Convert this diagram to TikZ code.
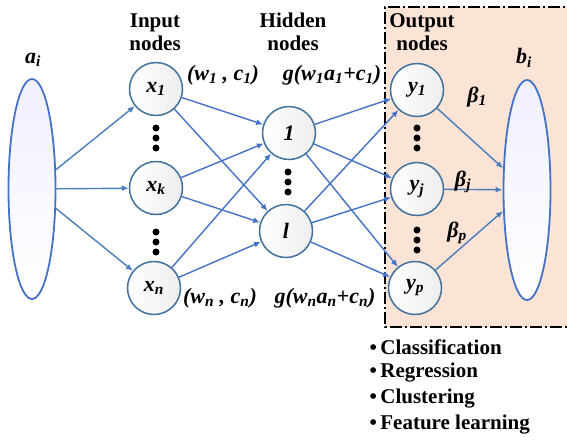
\documentclass[tikz,border=0pt]{standalone}
\usepackage{fontspec}
\setmainfont{Liberation Serif}
\usetikzlibrary{arrows.meta,positioning,shapes.geometric}
\definecolor{NodeRing}{RGB}{65,113,156}
\definecolor{LinkBlue}{RGB}{68,114,196}
\definecolor{FeedBlue}{RGB}{74,126,187}
\definecolor{OutPeach}{RGB}{251,228,214}

\begin{document}
\begin{tikzpicture}[x=1pt,y=-1pt,>={Latex[length=7pt,width=6pt]},
    neuron/.style={circle,draw=NodeRing,line width=1.5pt,minimum size=53pt,inner sep=0pt,
      left color=white,right color=black!7,font=\fontsize{22}{24}\selectfont\bfseries\itshape},
    blob/.style={ellipse,draw=LinkBlue,line width=1.8pt,minimum width=47pt,minimum height=220pt,
      inner sep=0pt,top color=blue!6,bottom color=white},
    lbl/.style={font=\fontsize{22}{24}\selectfont\bfseries\itshape},
    head/.style={font=\fontsize{21}{23}\selectfont\bfseries,align=center},
    link/.style={->,LinkBlue,line width=1.4pt},
    feed/.style={->,FeedBlue,line width=1.4pt}]
  \useasboundingbox (0,0) rectangle (567,440);

  % output region
  \fill[OutPeach] (385,7) rectangle (580,327);
  \draw[line width=1.6pt,dash pattern=on 12pt off 3pt on 2pt off 3pt]
    (580,7) -- (385,7) -- (385,327) -- (580,327);

  \node[blob] (ai) at (32,189) {};
  \node[blob] (bi) at (527,190) {};
  \node[lbl] (ailab) at (33,60) {a\textsubscript{i}};
  \node[lbl] (bilab) at (524,58) {b\textsubscript{i}};

  \node[head] (inhead) at (155,32) {Input\\nodes};
  \node[head] (hidhead) at (293,32) {Hidden\\nodes};
  \node[head] (outhead) at (422,32) {Output\\nodes};

  \node[neuron] (x1) at (156,89) {x\textsubscript{1}};
  \node[neuron] (xk) at (156,188) {x\textsubscript{k}};
  \node[neuron] (xn) at (154,288) {x\textsubscript{n}};
  \node[neuron] (h1) at (289,133) {1};
  \node[neuron] (hl) at (286,231) {l};
  \node[neuron] (y1) at (417,90) {y\textsubscript{1}};
  \node[neuron] (yj) at (417,189) {y\textsubscript{j}};
  \node[neuron] (yp) at (415,288) {y\textsubscript{p}};

  \foreach \x/\y in {156/138,156/242,288/182,417/138,417/240}
    \foreach \d in {-10,0,10}
      \fill (\x,\y+\d) circle (3.5pt);

  \foreach \n in {x1,xk,xn}
    \draw[feed] (ai) -- (\n);
  \foreach \s in {x1,xk,xn}
    \foreach \t in {h1,hl}
      \draw[link] (\s) -- (\t);
  \foreach \s in {h1,hl}
    \foreach \t in {y1,yj,yp}
      \draw[link] (\s) -- (\t);
  \foreach \s in {y1,yj,yp}
    \draw[feed] (\s) -- (bi);

  \node[lbl] (wc1) at (223,75) {(w\textsubscript{1} , c\textsubscript{1})};
  \node[lbl] (g1) at (332,75) {g(w\textsubscript{1}a\textsubscript{1}+c\textsubscript{1})};
  \node[lbl] (wcn) at (220,298) {(w\textsubscript{n} , c\textsubscript{n})};
  \node[lbl] (gn) at (325,298) {g(w\textsubscript{n}a\textsubscript{n}+c\textsubscript{n})};
  \node[lbl] (beta1) at (477,97) {β\textsubscript{1}};
  \node[lbl] (betaj) at (463,182) {β\textsubscript{j}};
  \node[lbl] (betap) at (457,233) {β\textsubscript{p}};

  \foreach \t [count=\i] in {Classification,Regression,Clustering,Feature learning}
    \node[head,anchor=west] (task\i) at (366,321+\i*26) {\textbullet\,\t};
\end{tikzpicture}
\end{document}
